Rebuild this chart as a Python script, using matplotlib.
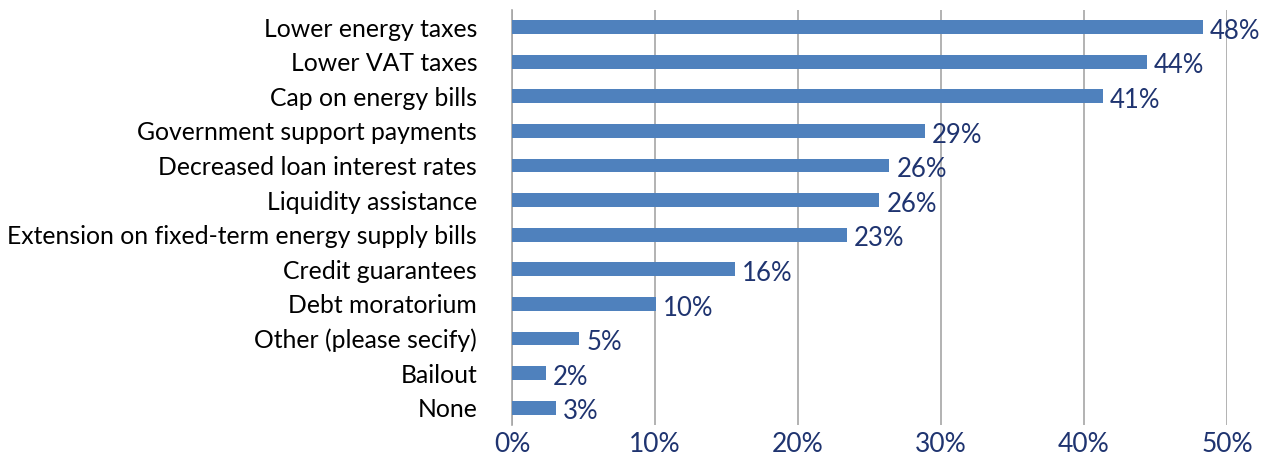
import numpy as np
import matplotlib.pyplot as plt

categories = [
    "Lower energy taxes",
    "Lower VAT taxes",
    "Cap on energy bills",
    "Government support payments",
    "Decreased loan interest rates",
    "Liquidity assistance",
    "Extension on fixed-term energy supply bills",
    "Credit guarantees",
    "Debt moratorium",
    "Other (please secify)",
    "Bailout",
    "None",
]
values = [48.3, 44.4, 41.3, 28.9, 26.4, 25.7, 23.4, 15.6, 10.1, 4.7, 2.4, 3.1]
labels = ["48%", "44%", "41%", "29%", "26%", "26%", "23%", "16%", "10%", "5%", "2%", "3%"]
ticks = [0, 10, 20, 30, 40, 50]

plt.rcParams["font.family"] = ["Lato", "DejaVu Sans"]
navy = "#1F3470"
bar_color = "#4F81BD"

fig = plt.figure(figsize=(12.61, 4.66), dpi=100)
ax = fig.add_axes([0.406, 0.088, 0.567, 0.891])

y = np.arange(len(categories))
ax.barh(y, values, height=0.4, color=bar_color, zorder=3)

for yi, v, lab in zip(y, values, labels):
    ax.annotate(lab, (v, yi), xytext=(5, -3), textcoords="offset points",
                va="center", ha="left", fontsize=18.5, color=navy,
                zorder=4, annotation_clip=False)

ax.set_xlim(0, 50)
ax.set_ylim(len(categories) - 0.5, -0.5)
ax.set_yticks(y)
ax.set_yticklabels(categories, fontsize=17.8, color="black")
ax.set_xticks(ticks)
ax.set_xticklabels([f"{t}%" for t in ticks], fontsize=19, color=navy)
ax.tick_params(axis="both", length=0)
ax.tick_params(axis="x", pad=5)
ax.tick_params(axis="y", pad=25)

ax.grid(axis="x", color="#A6A6A6", linewidth=1.2, zorder=0)
for s in ["top", "right", "bottom"]:
    ax.spines[s].set_visible(False)
ax.spines["left"].set_color("#A6A6A6")
ax.spines["left"].set_linewidth(1.2)

fig.savefig("out.png", dpi=100)
